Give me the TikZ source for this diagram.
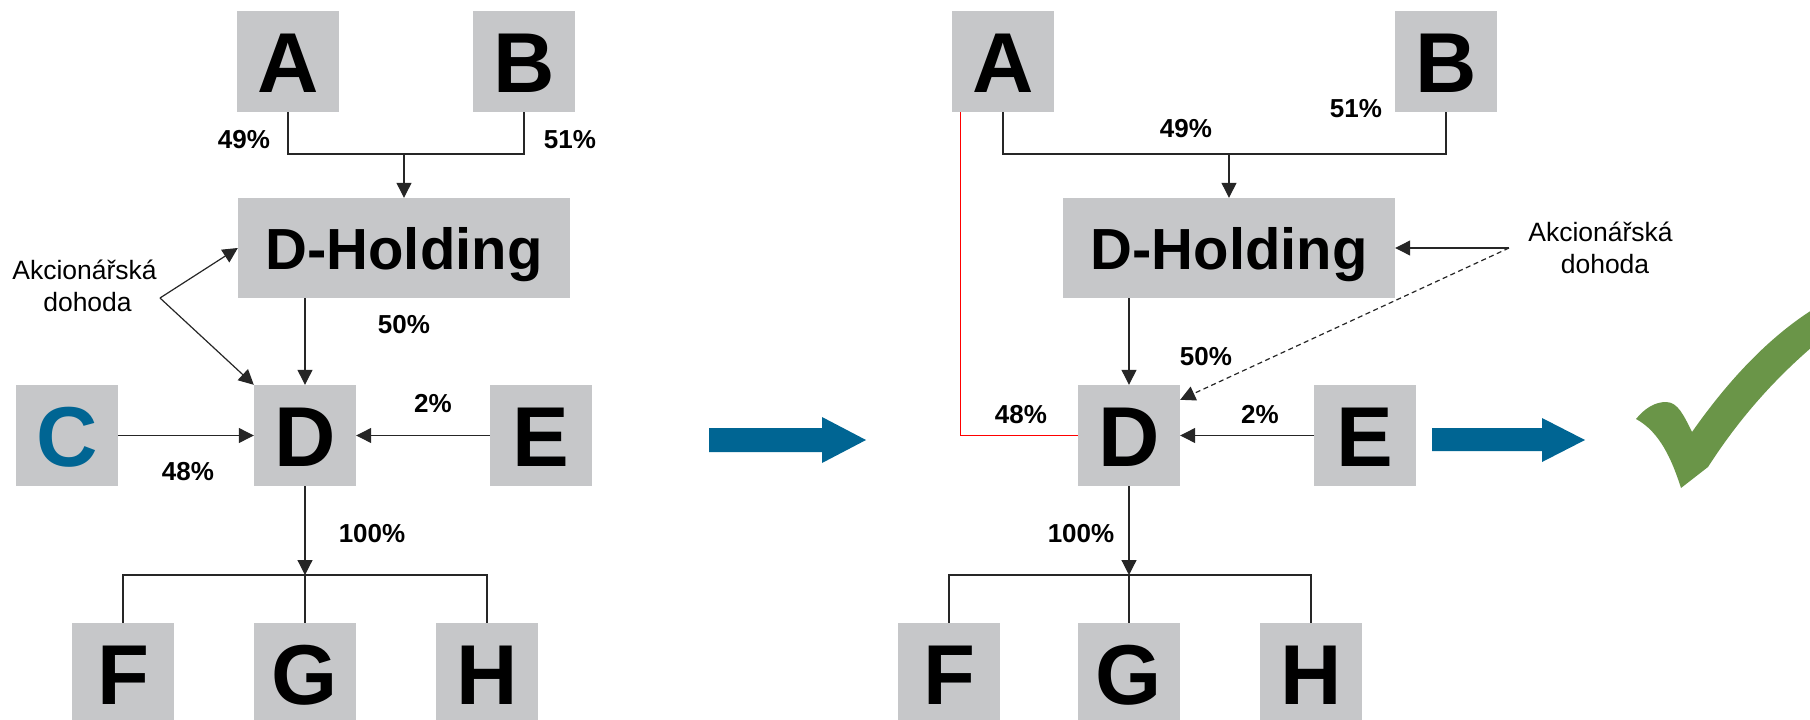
\documentclass[tikz,border=0pt]{standalone}
\usepackage{fontspec}
\setmainfont{Liberation Sans}
\usetikzlibrary{arrows.meta,calc}
\definecolor{boxgray}{HTML}{C6C7C9}
\definecolor{cblue}{HTML}{006593}
\definecolor{okgreen}{HTML}{6A9548}
\begin{document}
\begin{tikzpicture}[x=1pt,y=-1pt,
  ent/.style={fill=boxgray, minimum width=102pt, minimum height=101pt, inner sep=0pt,
    font=\fontsize{85}{85}\selectfont\bfseries, text height=61pt, text depth=0pt},
  hold/.style={ent, minimum width=332pt, minimum height=100pt,
    font=\fontsize{58}{58}\selectfont\bfseries, text height=42pt},
  pct/.style={font=\fontsize{26}{26}\selectfont\bfseries, anchor=base, inner sep=0pt},
  note/.style={font=\fontsize{26.5}{26.5}\selectfont, anchor=base, inner sep=0pt},
  link/.style={line width=1.2pt, draw=black!85},
  arr/.style={link, -{Triangle[length=15pt,width=15pt]}},
  dasharr/.style={arr, dash pattern=on 5pt off 3.5pt},
  redlink/.style={line width=1pt, draw=red},
  bigarrow/.style={fill=cblue},
  tick/.style={fill=okgreen}]
\useasboundingbox (0,0) rectangle (1810,720);

% ---------- left panel ----------
\node[ent] (A1) at (288,61.5) {A};
\node[ent] (B1) at (524,61.5) {B};
\node[hold] (DH1) at (404,248) {D-Holding};
\node[ent, text=cblue] (C1) at (67,435.5) {C};
\node[ent] (D1) at (305,435.5) {D};
\node[ent] (E1) at (541,435.5) {E};
\node[ent] (F1) at (123,673.5) {F};
\node[ent] (G1) at (305,673.5) {G};
\node[ent] (H1) at (487,673.5) {H};

\node[pct] (p49a) at (244,148) {49\%};
\node[pct] (p51a) at (570,148) {51\%};
\node[pct] (p50a) at (404,333) {50\%};
\node[pct] (p2a) at (433,412) {2\%};
\node[pct] (p48a) at (188,480) {48\%};
\node[pct] (p100a) at (372,542) {100\%};
\node[note] (ak1) at (84.5,279) {Akcionářská};
\node[note] (do1) at (87.5,311) {dohoda};

\coordinate (j1) at (404,154);
\coordinate (v1) at (160,298);
\coordinate (j2) at (305,575);
\draw[link] (A1.south) |- (j1) -| (B1.south);
\draw[arr] (j1) -- (DH1.north);
\draw[arr] (D1.north |- DH1.south) -- (D1.north);
\draw[arr] (v1) -- (DH1.west);
\draw[arr] (v1) -- (D1.north west);
\draw[arr] (C1.east) -- (D1.west);
\draw[arr] (E1.west) -- (D1.east);
\draw[arr] (D1.south) -- (j2);
\draw[link] (F1.north) |- (j2) -| (H1.north);
\draw[link] (j2) -- (G1.north);

% ---------- big arrow ----------
\fill[bigarrow] (709,428) -- (822,428) -- (822,417) -- (866,440) -- (822,463) -- (822,452) -- (709,452) -- cycle;

% ---------- right panel ----------
\node[ent] (A2) at (1003,61.5) {A};
\node[ent] (B2) at (1446,61.5) {B};
\node[hold] (DH2) at (1229,248) {D-Holding};
\node[ent] (D2) at (1129,435.5) {D};
\node[ent] (E2) at (1365,435.5) {E};
\node[ent] (F2) at (949,673.5) {F};
\node[ent] (G2) at (1129,673.5) {G};
\node[ent] (H2) at (1311,673.5) {H};

\node[pct] (p49b) at (1186,137) {49\%};
\node[pct] (p51b) at (1356,117) {51\%};
\node[pct] (p50b) at (1206,365) {50\%};
\node[pct] (p48b) at (1021,423) {48\%};
\node[pct] (p2b) at (1260,423) {2\%};
\node[pct] (p100b) at (1081,542) {100\%};
\node[note] (ak2) at (1600.5,241) {Akcionářská};
\node[note] (do2) at (1605,273) {dohoda};

\coordinate (j3) at (1229,154);
\coordinate (v2) at (1509,248);
\coordinate (j4) at (1129,575);
\draw[link] (A2.south) |- (j3) -| (B2.south);
\draw[arr] (j3) -- (DH2.north);
\draw[arr] (D2.north |- DH2.south) -- (D2.north);
\draw[redlink] ([xshift=9pt]A2.south west) |- (D2.west);
\draw[arr] (E2.west) -- (D2.east);
\draw[arr] (v2) -- (DH2.east);
\draw[dasharr] (v2) -- ([yshift=-15pt]D2.north east);
\draw[arr] (D2.south) -- (j4);
\draw[link] (F2.north) |- (j4) -| (H2.north);
\draw[link] (j4) -- (G2.north);

\fill[bigarrow] (1432,428) -- (1542,428) -- (1542,418) -- (1585,440) -- (1542,462) -- (1542,451) -- (1432,451) -- cycle;

% ---------- check mark ----------
\fill[tick] (1636,419) .. controls (1645,408) and (1655,402) .. (1666,402)
  .. controls (1678,402) and (1684,416) .. (1692,432)
  .. controls (1725,385) and (1765,340) .. (1812,310)
  -- (1812,347)
  .. controls (1768,385) and (1735,425) .. (1708,467)
  -- (1681,488)
  .. controls (1672,460) and (1660,432) .. (1636,419) -- cycle;
\end{tikzpicture}
\end{document}
